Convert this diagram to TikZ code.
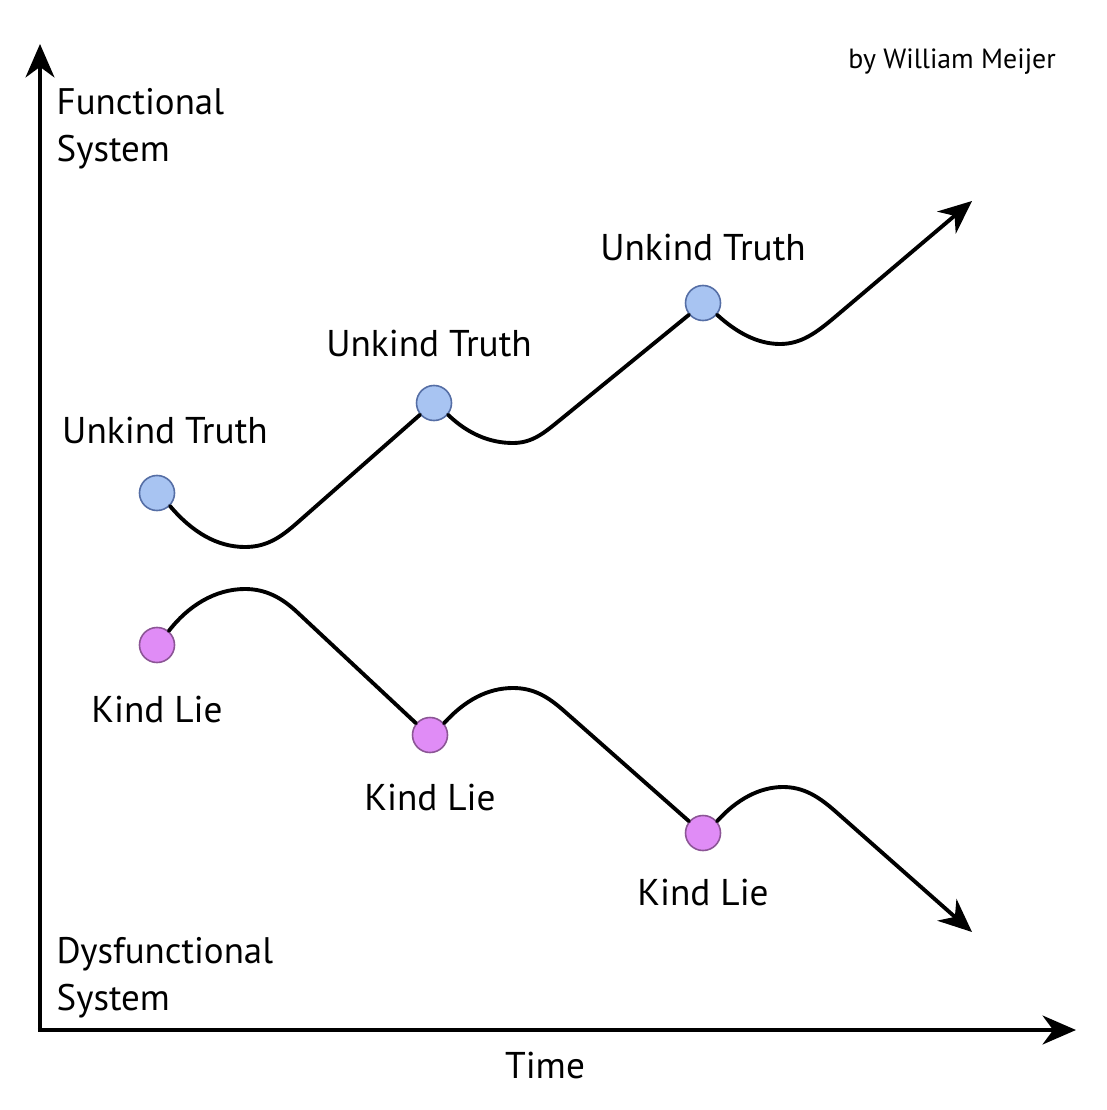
\documentclass[tikz,border=0pt]{standalone}
\usepackage{fontspec}
\setmainfont{PT Sans}
\usetikzlibrary{arrows.meta}
\definecolor{bluefill}{RGB}{168,196,242}
\definecolor{blueedge}{RGB}{85,110,165}
\definecolor{purplefill}{RGB}{224,140,246}
\definecolor{purpleedge}{RGB}{140,85,150}
\tikzset{
  axis/.style={line width=1.2pt, -{Stealth[length=9.5pt,width=8.2pt,inset=3pt]}},
  curve/.style={line width=1.1pt, line cap=round},
  curvearrow/.style={curve, -{Stealth[length=9.5pt,width=8.2pt,inset=3pt]}},
  truthdot/.style={circle, draw=blueedge, fill=bluefill, line width=0.45pt, minimum size=0.35cm, inner sep=0pt},
  liedot/.style={circle, draw=purpleedge, fill=purplefill, line width=0.45pt, minimum size=0.35cm, inner sep=0pt},
  lbl/.style={font=\fontsize{10.6}{12}\selectfont, inner sep=0pt},
  axlbl/.style={font=\fontsize{10.5}{13.2}\selectfont, inner sep=0pt, align=left, anchor=north west},
}
\begin{document}
\begin{tikzpicture}[x=0.01cm, y=-0.01cm]
\useasboundingbox[fill=white] (0,0) rectangle (1106,1110);
% axes
\coordinate (origin) at (40,1030);
\coordinate (ytop) at (40,44);
\coordinate (xend) at (1076,1030);
\draw[axis] (origin) -- (ytop);
\draw[axis] ([xshift=-0.6pt]origin) -- (xend);
% axis labels
\node[axlbl] (func) at (56,88) {Functional\\System};
\node[axlbl] (dysf) at (56,937) {Dysfunctional\\System};
\node[lbl] (time) at (545,1066) {Time};
\node[font=\fontsize{7.9}{9}\selectfont, inner sep=0pt] (author) at (952,62) {by William Meijer};
% dots
\node[truthdot] (b1) at (157,493) {};
\node[truthdot] (b2) at (434,403) {};
\node[truthdot] (b3) at (703,303) {};
\node[liedot] (p1) at (157,645) {};
\node[liedot] (p2) at (430,735) {};
\node[liedot] (p3) at (703,833) {};
% labels
\node[lbl] (tb1) at (165,431) {Unkind Truth};
\node[lbl] (tb2) at (429,344) {Unkind Truth};
\node[lbl] (tb3) at (703,248) {Unkind Truth};
\node[lbl] (tp1) at (157,710) {Kind Lie};
\node[lbl] (tp2) at (430,798) {Kind Lie};
\node[lbl] (tp3) at (703,893) {Kind Lie};
% end coordinates
\coordinate (upend) at (972,201);
\coordinate (downend) at (972,932);
% truth curve
\draw[curve] (b1.-45) .. controls (192,532) and (217,547) .. (245,547)
  .. controls (267,547) and (281,537) .. (297,523) -- (b2.-140);
\draw[curve] (b2.-40) .. controls (468,434) and (490,443) .. (513,443)
  .. controls (533,443) and (545,432) .. (560,420) -- (b3.-140);
\draw[curvearrow] (b3.-40) .. controls (737,333) and (758,344) .. (780,344)
  .. controls (801,344) and (816,333) .. (835,317) -- (upend);
% lie curve
\draw[curve] (p1.50) .. controls (188,606) and (215,589) .. (245,589)
  .. controls (266,589) and (282,598) .. (297,612) -- (p2.140);
\draw[curve] (p2.40) .. controls (465,700) and (488,688) .. (513,688)
  .. controls (534,688) and (548,697) .. (563,710) -- (p3.140);
\draw[curvearrow] (p3.40) .. controls (737,799) and (760,787) .. (783,787)
  .. controls (804,787) and (819,797) .. (835,811) -- (downend);
\end{tikzpicture}
\end{document}
